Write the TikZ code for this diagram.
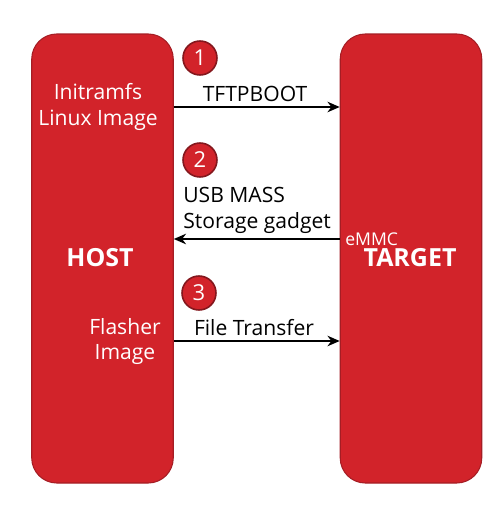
\documentclass[tikz,border=0pt]{standalone}
\usepackage{fontspec}
\setmainfont{Open Sans}
\usetikzlibrary{arrows.meta}

\definecolor{boxred}{HTML}{D2232A}
\definecolor{edgered}{HTML}{A51D24}

\tikzset{
  board/.style={draw=edgered, line width=0.6pt, fill=boxred, rounded corners=0.5cm,
    minimum width=2.83cm, minimum height=8.98cm},
  badge/.style={circle, draw=edgered!80!black, line width=0.9pt, fill=boxred,
    minimum size=0.68cm, inner sep=0pt, text=white, font=\fontsize{12.5}{14}\selectfont},
  whitetext/.style={text=white, inner sep=0pt, align=center,
    font=\fontsize{12}{14.7}\selectfont},
  bigtext/.style={text=white, inner sep=0pt, font=\fontsize{14.2}{16}\selectfont\bfseries},
  linktext/.style={inner sep=0pt, font=\fontsize{12}{14.7}\selectfont},
  link/.style={-{Stealth[length=7pt,width=6pt]}, line width=0.9pt}
}

\begin{document}
\begin{tikzpicture}
    \useasboundingbox (0,0) rectangle (10,10.32);

    % Draw the two boards
    \node[board] (host) at (2.05,5.15) {};
    \node[board] (target) at (8.22,5.15) {};

    % Label the boards
    \node[bigtext] (hostname) at (2.0,5.16) {HOST};
    \node[bigtext] (targetname) at (8.2,5.16) {TARGET};
    \node[whitetext, anchor=west, font=\fontsize{10}{12}\selectfont] (emmc) at (6.9,5.54) {eMMC};

    % Images on the host
    \node[whitetext] (initramfs) at (1.96,8.18) {Initramfs\\Linux Image};
    \node[whitetext] (flasher) at (2.5,3.49) {Flasher\\Image};

    % Step 1: TFTPBOOT
    \node[badge] (one) at (4.0,9.16) {1};
    \draw[link] (host.east |- 0,8.18) -- (target.west |- 0,8.18);
    \node[linktext] (tftp) at (5.1,8.44) {TFTPBOOT};

    % Step 2: USB mass storage
    \node[badge] (two) at (4.0,7.12) {2};
    \draw[link] (target.west |- 0,5.54) -- (host.east |- 0,5.54);
    \node[linktext, anchor=west, align=left] (usb) at (3.66,6.12) {USB MASS\\Storage gadget};

    % Step 3: file transfer
    \node[badge] (three) at (3.98,4.46) {3};
    \draw[link] (host.east |- 0,3.5) -- (target.west |- 0,3.5);
    \node[linktext] (transfer) at (5.08,3.76) {File Transfer};

\end{tikzpicture}
\end{document}
